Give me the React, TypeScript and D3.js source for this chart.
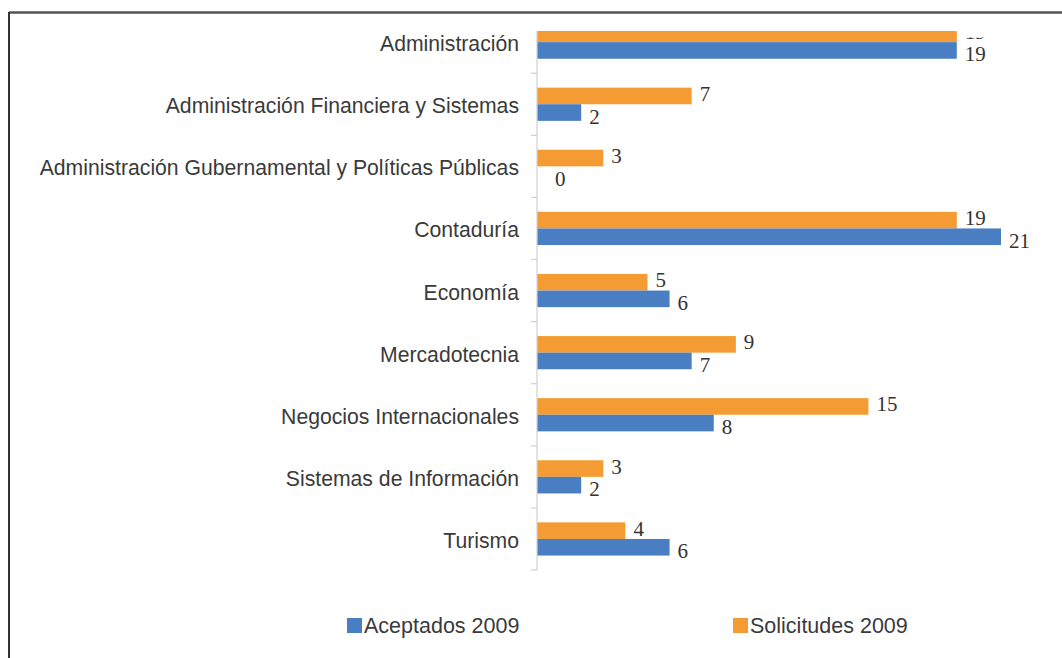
import React from "react";
import * as d3 from "d3";

const categories = [
  "Administración",
  "Administración Financiera y Sistemas",
  "Administración Gubernamental y Políticas Públicas",
  "Contaduría",
  "Economía",
  "Mercadotecnia",
  "Negocios Internacionales",
  "Sistemas de Información",
  "Turismo",
];
const aceptados2009 = [19, 2, 0, 21, 6, 7, 8, 2, 6];
const solicitudes2009 = [19, 7, 3, 19, 5, 9, 15, 3, 4];
const seriesNames = ["Solicitudes 2009", "Aceptados 2009"];
const legendOrder = ["Aceptados 2009", "Solicitudes 2009"];

const W = 1062;
const H = 658;
const COLORS: Record<string, string> = {
  "Aceptados 2009": "#4A7EC2",
  "Solicitudes 2009": "#F49C33",
};

export default function App() {
  const x = d3.scaleLinear().domain([0, 21]).range([537, 1001]);
  const y = d3.scaleBand<string>().domain(categories).range([11.1, 570]).paddingInner(0).paddingOuter(0);
  const inner = d3.scaleBand<string>().domain(seriesNames).range([-16.6, 16.6]);
  const valuesOf: Record<string, number[]> = {
    "Aceptados 2009": aceptados2009,
    "Solicitudes 2009": solicitudes2009,
  };
  const ticks = [...categories.map((c) => y(c)!), 570];

  return (
    <svg
      width={W}
      height={H}
      style={{ position: "absolute", left: 0, top: 0, background: "#fff" }}
    >
      <defs>
        <clipPath id="plotClip">
          <rect x={0} y={31} width={W} height={H - 31} />
        </clipPath>
        <clipPath id="labelClip">
          <rect x={0} y={37.5} width={W} height={H - 37.5} />
        </clipPath>
      </defs>
      <rect x={0} y={0} width={W} height={H} fill="#fff" />
      {/* frame */}
      <line x1={9} x2={W} y1={12.5} y2={12.5} stroke="#555" strokeWidth={2.5} />
      <line x1={9} x2={9} y1={12} y2={H} stroke="#333" strokeWidth={2} />

      <g clipPath="url(#plotClip)">
        {/* bars */}
        {categories.map((c, i) =>
          seriesNames.map((s) => {
            const v = valuesOf[s][i];
            const cy = y(c)! + y.bandwidth() / 2;
            const by = cy + inner(s)!;
            return (
              <rect
                key={c + s}
                x={x(0)}
                y={by}
                width={x(v) - x(0)}
                height={inner.bandwidth()}
                fill={COLORS[s]}
              />
            );
          })
        )}
        {/* axis */}
        <line x1={537} x2={537} y1={0} y2={570} stroke="#d0d0d0" strokeWidth={1.2} />
        {ticks.map((t, i) => (
          <line key={i} x1={531} x2={537} y1={t} y2={t} stroke="#d0d0d0" strokeWidth={1.2} />
        ))}
      </g>
      {/* value labels */}
      <g clipPath="url(#labelClip)">
        {categories.map((c, i) =>
          seriesNames.map((s) => {
            const v = valuesOf[s][i];
            const cy = y(c)! + y.bandwidth() / 2;
            const by = cy + inner(s)! + inner.bandwidth() / 2 + (s === "Aceptados 2009" ? 4 : -2);
            return (
              <text
                key={"l" + c + s}
                x={x(v) + 8 + (v === 0 ? 10 : 0)}
                y={by}
                dominantBaseline="central"
                fontFamily="'Liberation Serif', 'Times New Roman', serif"
                fontSize={21}
                fill="#333"
              >
                {v}
              </text>
            );
          })
        )}
      </g>

      {/* category labels */}
      {categories.map((c) => (
        <text
          key={"c" + c}
          x={519}
          y={y(c)! + y.bandwidth() / 2 + 1.5}
          textAnchor="end"
          dominantBaseline="central"
          fontFamily="'Liberation Sans', Arial, sans-serif"
          fontSize={21.2}
          fill="#3a3a3a"
        >
          {c}
        </text>
      ))}

      {/* legend */}
      {legendOrder.map((s, i) => {
        const lx = i === 0 ? 347 : 733;
        return (
          <g key={"lg" + s}>
            <rect x={lx} y={618} width={15} height={15} fill={COLORS[s]} />
            <text
              x={lx + 17}
              y={633}
              fontFamily="'Liberation Sans', Arial, sans-serif"
              fontSize={21.5}
              fill="#3a3a3a"
            >
              {s}
            </text>
          </g>
        );
      })}
    </svg>
  );
}
